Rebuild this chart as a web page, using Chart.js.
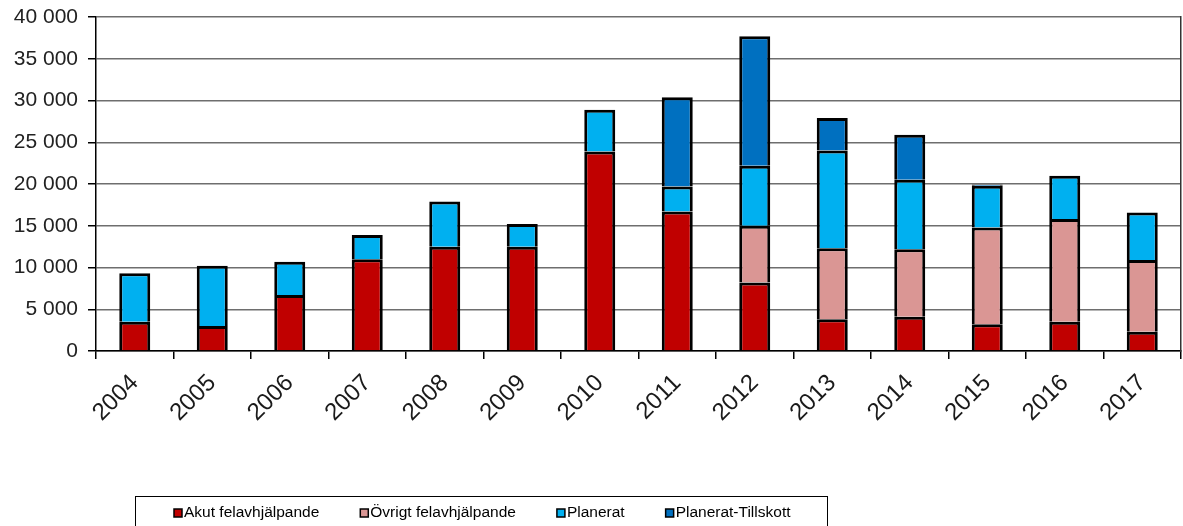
<!DOCTYPE html>
<html>
<head>
<meta charset="utf-8">
<script src="https://cdn.jsdelivr.net/npm/chart.js@4/dist/chart.umd.min.js"></script>
<style>
  html, body { margin: 0; padding: 0; background: #fff; }
  #wrap { width: 1183px; height: 526px; position: relative; }
</style>
</head>
<body>
<div id="wrap"><canvas id="chart"></canvas></div>
<script>
const years = ["2004", "2005", "2006", "2007", "2008", "2009", "2010", "2011", "2012", "2013", "2014", "2015", "2016", "2017"];
const akut = [3500, 3000, 6700, 11000, 12500, 12500, 23900, 16700, 8200, 3800, 4100, 3200, 3500, 2300];
const ovrigt = [0, 0, 0, 0, 0, 0, 0, 0, 6800, 8500, 8100, 11600, 12300, 8600];
const planerat = [5800, 7200, 4000, 2900, 5400, 2700, 5000, 3000, 7200, 11700, 8300, 5000, 5200, 5700];
const tillskott = [0, 0, 0, 0, 0, 0, 0, 10700, 15500, 3900, 5400, 150, 0, 0];
const yTicks = [0, 5000, 10000, 15000, 20000, 25000, 30000, 35000, 40000];

const fmt = v => String(v).replace(/\B(?=(\d{3})+(?!\d))/g, " ");

// legend drawn in a box under the chart, like the original
const boxLegend = {
    id: "boxLegend",
    afterDraw(chart) {
        const ctx = chart.ctx;
        ctx.save();
        ctx.strokeStyle = "#000";
        ctx.lineWidth = 1;
        ctx.strokeRect(135.5, 496.5, 692, 40);
        ctx.font = "15.5px 'Liberation Sans', Arial, sans-serif";
        ctx.textBaseline = "middle";
        let x = 174;
        const y = 513;
        chart.data.datasets.forEach(ds => {
            ctx.fillStyle = ds.backgroundColor;
            ctx.fillRect(x, y - 4, 8, 8);
            ctx.strokeStyle = "#000";
            ctx.lineWidth = 1.5;
            ctx.strokeRect(x, y - 4, 8, 8);
            ctx.fillStyle = "#000";
            ctx.fillText(ds.label, x + 10, y);
            x += 10 + ctx.measureText(ds.label).width + 41;
        });
        ctx.restore();
    }
};

const ctx = document.getElementById("chart").getContext("2d");

new Chart(ctx, {
    type: "bar",
    data: {
        labels: years,
        datasets: [
            { label: "Akut felavhjälpande", data: akut, backgroundColor: "#C00000" },
            { label: "Övrigt felavhjälpande", data: ovrigt, backgroundColor: "#DA9694" },
            { label: "Planerat", data: planerat, backgroundColor: "#00B0F0" },
            { label: "Planerat-Tillskott", data: tillskott, backgroundColor: "#0070C0" },
        ],
    },
    options: {
        responsive: true,
        maintainAspectRatio: false,
        animation: false,
        layout: { padding: { top: 17, right: 0, bottom: 0, left: 0 } },
        datasets: {
            bar: {
                borderColor: "#000",
                borderWidth: 3,
                categoryPercentage: 0.8,
                barPercentage: 0.5,
            },
        },
        plugins: {
            legend: { display: false },
            tooltip: { enabled: false },
        },
        scales: {
            x: {
                stacked: true,
                afterFit: s => { s.height = 175; s.paddingLeft = 0; s.paddingRight = 0; },
                grid: { display: true, drawOnChartArea: false, color: "#000", lineWidth: 1.5, tickLength: 8, offset: true },
                border: { color: "#000", width: 1.5 },
                ticks: {
                    color: "#1a1a1a",
                    font: { family: "'Liberation Sans', Arial, sans-serif", size: 24 },
                    maxRotation: 45,
                    minRotation: 45,
                    padding: 10,
                },
            },
            y: {
                stacked: true,
                min: 0,
                max: 40000,
                afterFit: s => { s.width = 96; s.paddingTop = 0; s.paddingBottom = 0; },
                afterBuildTicks: s => { s.ticks = yTicks.map(v => ({ value: v })); },
                grid: { color: "#6e6e6e", lineWidth: 1.5, tickLength: 8, tickColor: "#000" },
                border: { color: "#000", width: 1.5 },
                ticks: {
                    color: "#222",
                    font: { family: "'Liberation Sans', Arial, sans-serif", size: 21 },
                    padding: 10,
                    callback: v => fmt(v),
                },
            },
            y2: {
                position: "right",
                min: 0,
                max: 40000,
                afterFit: s => { s.width = 2; s.paddingTop = 0; s.paddingBottom = 0; },
                grid: { display: false },
                border: { color: "#333", width: 1.5 },
                ticks: { display: false },
            },
        },
    },
    plugins: [boxLegend],
});
</script>
</body>
</html>
